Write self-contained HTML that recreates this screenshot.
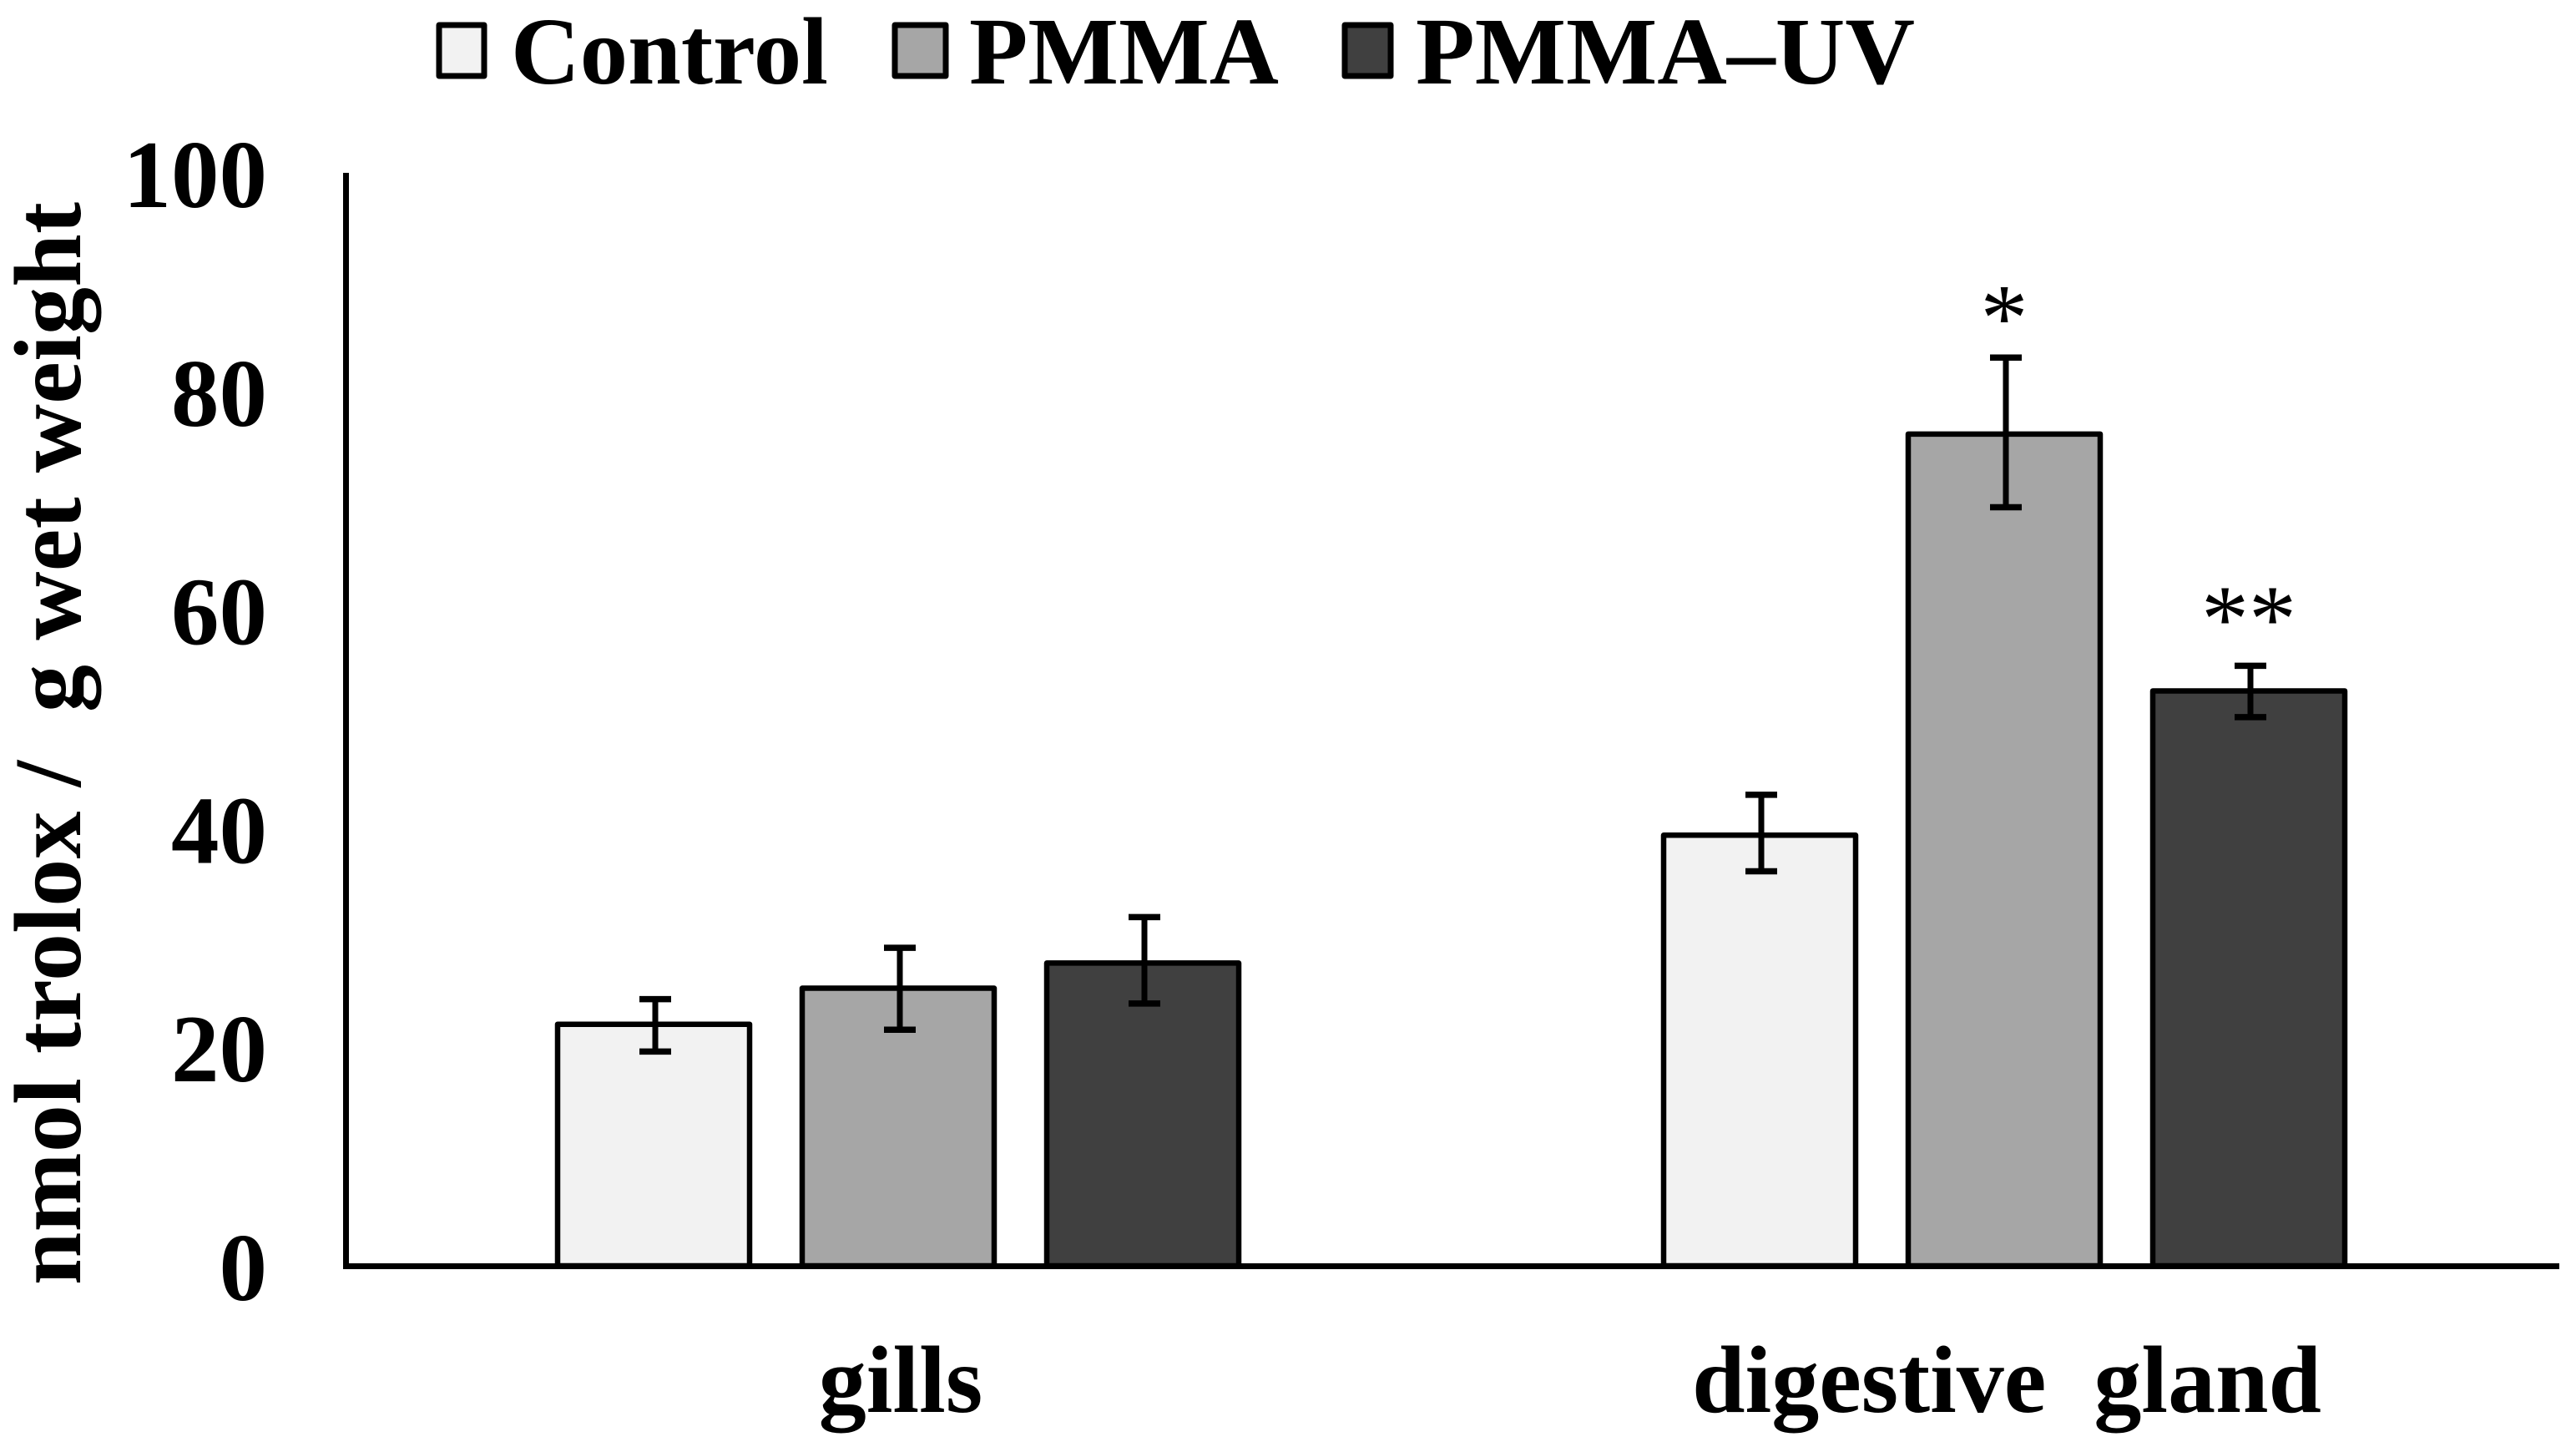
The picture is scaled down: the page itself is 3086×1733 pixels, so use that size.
<!DOCTYPE html>
<html lang="en">
<head>
<meta charset="utf-8">
<title>Trolox equivalents in gills and digestive gland</title>
<style>
html,body{margin:0;padding:0;background:#fff;width:3086px;height:1733px;overflow:hidden}
svg{display:block}
text{font-family:"Liberation Serif",serif;font-weight:bold;fill:#000;white-space:pre}
</style>
</head>
<body>
<svg id="chart" xmlns="http://www.w3.org/2000/svg" width="3086" height="1733" viewBox="0 0 3086 1733">
  <rect x="0" y="0" width="3086" height="1733" fill="#ffffff"/>

  <g>
    <g>
      <rect x="526" y="30" width="54" height="61" fill="#f2f2f2" stroke="#000" stroke-width="7" stroke-linejoin="round"/>
      <text x="612" y="100" font-size="114" textLength="380" lengthAdjust="spacingAndGlyphs">Control</text>
    </g>
    <g>
      <rect x="1072" y="30" width="61" height="61" fill="#a6a6a6" stroke="#000" stroke-width="7" stroke-linejoin="round"/>
      <text x="1161" y="100" font-size="114" textLength="371" lengthAdjust="spacingAndGlyphs">PMMA</text>
    </g>
    <g>
      <rect x="1611" y="30" width="55" height="61" fill="#404040" stroke="#000" stroke-width="7" stroke-linejoin="round"/>
      <text x="1696" y="100" font-size="114" textLength="598" lengthAdjust="spacingAndGlyphs">PMMA–UV</text>
    </g>
  </g>

  <text transform="translate(96 1539) rotate(-90)" x="0" y="0" font-size="114" textLength="1297" lengthAdjust="spacing">nmol trolox /  g wet weight</text>

  <g id="marks"></g>
  <g id="y-ticks"></g>
  <g id="x-labels"></g>

  <rect x="411" y="207" width="7" height="1313" fill="#000"/>
  <rect x="411" y="1513" width="2655" height="7" fill="#000"/>
</svg>

<script>
const categories = ['gills', 'digestive  gland'];
const seriesNames = ['Control', 'PMMA', 'PMMA-UV'];
const seriesColors = ['#f2f2f2', '#a6a6a6', '#404040'];
const controlValues = [22.1, 39.4];
const pmmaValues = [25.4, 76.1];
const pmmaUvValues = [27.7, 52.6];
const controlErrorUp = [2.3, 3.7];
const controlErrorDown = [2.5, 3.3];
const pmmaErrorUp = [3.7, 7.0];
const pmmaErrorDown = [3.8, 6.7];
const pmmaUvErrorUp = [4.2, 2.3];
const pmmaUvErrorDown = [3.7, 2.4];
const significance = [['', ''], ['', '*'], ['', '**']];
const yTickValues = [0, 20, 40, 60, 80, 100];

const seriesValues = [controlValues, pmmaValues, pmmaUvValues];
const seriesErrorUp = [controlErrorUp, pmmaErrorUp, pmmaUvErrorUp];
const seriesErrorDown = [controlErrorDown, pmmaErrorDown, pmmaUvErrorDown];

const SVG_NS = 'http://www.w3.org/2000/svg';
const Y_ZERO = 1516, Y_TOP = 207, Y_MAX = 100;
const X_START = 413.5, BAND = 1325, BAR_PITCH = 293, BAR_W = 230, CAP_W = 38, LABEL_SIZE = 114;
const ERR_SHIFT = 2, LABEL_SHIFT = 3;

function yScale(v) { return Y_ZERO - (v / Y_MAX) * (Y_ZERO - Y_TOP); }
function groupCenter(i) { return X_START + BAND * (i + 0.5); }
function barCenter(i, s) { return groupCenter(i) + (s - 1) * BAR_PITCH; }
function make(tag, attrs, parent) {
  const el = document.createElementNS(SVG_NS, tag);
  for (const k in attrs) el.setAttribute(k, attrs[k]);
  parent.appendChild(el);
  return el;
}

const marks = document.getElementById('marks');
const yTicks = document.getElementById('y-ticks');
const xLabels = document.getElementById('x-labels');

yTickValues.forEach(function (t) {
  const label = make('text', { x: 320, y: yScale(t) + 41, 'text-anchor': 'end', 'font-size': 115 }, yTicks);
  
  
  label.textContent = String(t);
});

categories.forEach(function (cat, i) {
  const label = make('text', { x: groupCenter(i) + LABEL_SHIFT, y: 1691, 'text-anchor': 'middle', 'font-size': LABEL_SIZE }, xLabels);
  
  
  label.textContent = cat;

  seriesNames.forEach(function (name, s) {
    const v = seriesValues[s][i];
    const up = v + seriesErrorUp[s][i];
    const down = v - seriesErrorDown[s][i];
    const cx = barCenter(i, s);
    const ex = cx + ERR_SHIFT;

    const bar = make('rect', {
      x: cx - BAR_W / 2, y: yScale(v), width: BAR_W, height: Y_ZERO - yScale(v),
      fill: seriesColors[s], stroke: '#000', 'stroke-width': 6.5, 'stroke-linejoin': 'round'
    }, marks);
    
    

    const errGroup = make('g', { stroke: '#000', fill: 'none' }, marks);
    
    
    make('line', { x1: ex, x2: ex, y1: yScale(up), y2: yScale(down), 'stroke-width': 7 }, errGroup);
    make('line', { x1: ex - CAP_W / 2, x2: ex + CAP_W / 2, y1: yScale(up), y2: yScale(up), 'stroke-width': 7.5 }, errGroup);
    make('line', { x1: ex - CAP_W / 2, x2: ex + CAP_W / 2, y1: yScale(down), y2: yScale(down), 'stroke-width': 7.5 }, errGroup);

    const mark = significance[s][i];
    if (mark) {
      const gap = mark.length > 1 ? 18 : 9;
      const star = make('text', { x: cx, y: yScale(up) - gap, 'text-anchor': 'middle', 'font-size': LABEL_SIZE, style: 'font-weight:normal' }, marks);
      
      
      star.textContent = mark;
    }
  });
});
</script>
</body>
</html>
